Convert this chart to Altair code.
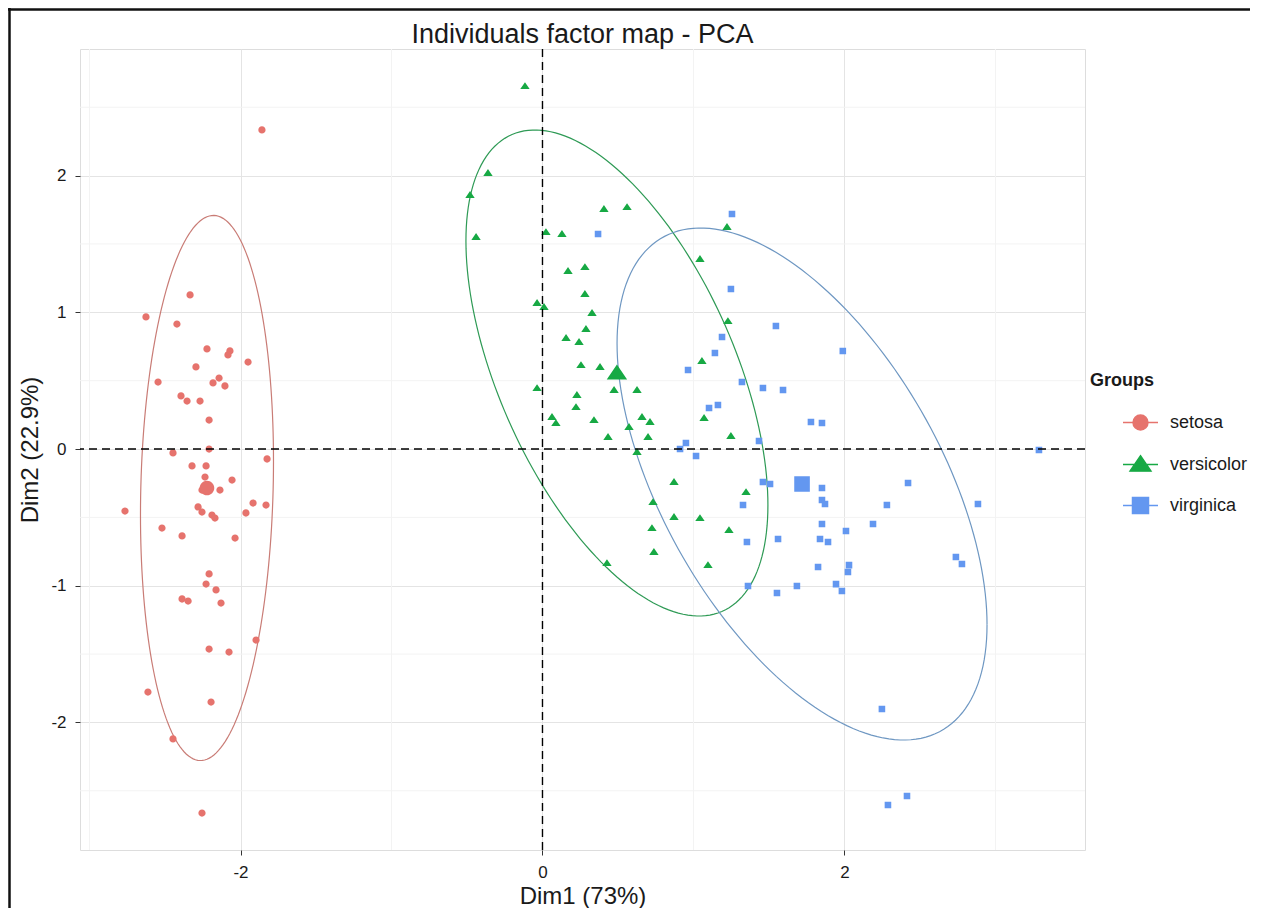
import altair as alt
import pandas as pd
import numpy as np

groups = ["setosa", "versicolor", "virginica"]

setosa_x = [-1.858, -2.334, -2.626, -2.421, -2.222, -2.070, -2.083, -1.950, -2.295, -2.546,
            -2.142, -2.182, -2.103, -2.394, -2.354, -2.268, -2.208, -2.208, -2.447, -1.824,
            -2.321, -2.228, -2.056, -2.235, -2.136, -2.255, -2.281, -2.255, -2.189, -2.169,
            -1.917, -1.831, -1.964, -2.765, -2.520, -2.387, -2.036, -2.208, -2.228, -2.162,
            -2.387, -2.347, -2.129, -1.897, -2.208, -2.076, -2.613, -2.195, -2.447, -2.255]
setosa_y = [2.334, 1.127, 0.966, 0.914, 0.732, 0.717, 0.688, 0.636, 0.600, 0.490,
            0.519, 0.483, 0.461, 0.388, 0.351, 0.351, 0.212, 0.000, -0.029, -0.073,
            -0.124, -0.124, -0.227, -0.205, -0.300, -0.300, -0.424, -0.461, -0.483, -0.505,
            -0.395, -0.410, -0.468, -0.454, -0.578, -0.636, -0.651, -0.914, -0.988, -1.031,
            -1.097, -1.112, -1.127, -1.397, -1.463, -1.485, -1.778, -1.851, -2.121, -2.663]

versicolor_x = [-0.116, -0.361, -0.480, -0.440, 0.023, 0.129, 0.407, 0.560, 1.222, 0.169,
                0.281, 1.043, 0.281, -0.036, 0.010, 0.328, 1.228, 0.288, 0.156, 0.242,
                0.255, 0.381, 1.056, -0.036, 0.228, 0.474, 0.626, 0.222, 0.063, 0.089,
                0.341, 0.659, 0.712, 0.573, 1.070, 0.434, 0.699, 1.248, 0.626, 0.871,
                1.348, 0.732, 0.871, 1.043, 0.725, 1.235, 0.738, 0.427, 1.096]
versicolor_y = [2.655, 2.019, 1.858, 1.551, 1.587, 1.573, 1.756, 1.770, 1.624, 1.302,
                1.331, 1.390, 1.134, 1.068, 1.039, 0.995, 0.936, 0.878, 0.812, 0.783,
                0.614, 0.600, 0.644, 0.446, 0.395, 0.432, 0.432, 0.307, 0.234, 0.190,
                0.212, 0.234, 0.198, 0.161, 0.227, 0.088, 0.088, 0.095, -0.022, -0.241,
                -0.315, -0.388, -0.497, -0.505, -0.578, -0.593, -0.753, -0.834, -0.849]

virginica_x = [1.255, 0.368, 1.248, 1.546, 1.189, 1.989, 1.142, 0.964, 1.321, 1.460,
               1.593, 1.103, 1.162, 1.778, 1.851, 1.434, 0.950, 0.911, 1.017, 1.460,
               1.507, 1.328, 1.354, 1.361, 1.553, 1.560, 3.288, 1.851, 1.851, 1.871,
               2.421, 2.281, 2.884, 1.851, 2.010, 2.189, 1.838, 1.891, 2.738, 2.778,
               1.825, 2.030, 2.023, 1.685, 1.944, 1.983, 2.248, 2.414, 2.288]
virginica_y = [1.719, 1.573, 1.170, 0.900, 0.819, 0.717, 0.702, 0.578, 0.490, 0.446,
               0.432, 0.300, 0.322, 0.198, 0.190, 0.059, 0.044, 0.000, -0.051, -0.241,
               -0.256, -0.410, -0.680, -1.002, -1.053, -0.658, -0.007, -0.285, -0.373, -0.402,
               -0.249, -0.410, -0.402, -0.549, -0.600, -0.549, -0.658, -0.680, -0.790, -0.841,
               -0.863, -0.849, -0.900, -1.002, -0.988, -1.039, -1.902, -2.538, -2.604]

# group means (large symbols) and ellipse shape (covariance terms, data units)
mean_x = [-2.222, 0.493, 1.719]
mean_y = [-0.285, 0.556, -0.256]
ell_sxx = [0.194, 1.000, 1.501]
ell_syy = [3.974, 3.160, 3.507]
ell_sxy = [0.086, -0.966, -1.260]

x_ticks = [-2, 0, 2]
y_ticks = [-2, -1, 0, 1, 2]
x_minor = [-3, -1, 1, 3]
y_minor = [-2.5, -1.5, -0.5, 0.5, 1.5, 2.5]
x_domain = [-3.063, 3.593]
y_domain = [-2.933, 2.926]

point_colors = ["#E6736D", "#17A944", "#6397F0"]
ellipse_colors = ["#C97C76", "#2E9A55", "#6E97C2"]
shape_paths = [
    "M-1,0L1,0M0.43,0A0.43,0.43,0,1,1,-0.43,0A0.43,0.43,0,1,1,0.43,0Z",
    "M-1,0L1,0M0,-0.5L0.6,0.38L-0.6,0.38Z",
    "M-1,0L1,0M-0.46,-0.46L0.46,-0.46L0.46,0.46L-0.46,0.46Z",
]

pts = pd.DataFrame({
    "group": ["setosa"] * len(setosa_x) + ["versicolor"] * len(versicolor_x) + ["virginica"] * len(virginica_x),
    "x": setosa_x + versicolor_x + virginica_x,
    "y": setosa_y + versicolor_y + virginica_y,
})
means = pd.DataFrame({"group": groups, "x": mean_x, "y": mean_y})

t = np.linspace(0, 2 * np.pi, 181)
rows = []
for g, cx, cy, a, b, c in zip(groups, mean_x, mean_y, ell_sxx, ell_syy, ell_sxy):
    l11 = np.sqrt(a)
    l21 = c / l11
    l22 = np.sqrt(b - l21 ** 2)
    ex = cx + l11 * np.cos(t)
    ey = cy + l21 * np.cos(t) + l22 * np.sin(t)
    for i, (xx, yy) in enumerate(zip(ex, ey)):
        rows.append({"group": g, "i": i, "x": float(xx), "y": float(yy)})
ell = pd.DataFrame(rows)

FONT = "Liberation Sans"
xs = alt.Scale(domain=x_domain, nice=False, zero=False)
ys = alt.Scale(domain=y_domain, nice=False, zero=False)

common_axis = dict(grid=True, gridColor="#E4E4E4", gridWidth=1, domain=False, ticks=True,
                   tickColor="#333333", tickSize=5, labelFontSize=17, labelColor="#1a1a1a",
                   labelPadding=9, titleFontSize=24, titleFontWeight="normal",
                   titleColor="#1a1a1a", labelFont=FONT, titleFont=FONT,
                   labelExpr="'' + datum.value")
xa = alt.Axis(values=x_ticks, title="Dim1 (73%)", titlePadding=4, **common_axis)
ya = alt.Axis(values=y_ticks, title="Dim2 (22.9%)", titlePadding=8, **common_axis)


def X():
    return alt.X("x:Q", scale=xs, axis=xa)


def Y():
    return alt.Y("y:Q", scale=ys, axis=ya)


color_scale = alt.Scale(domain=groups, range=point_colors)
shape_scale = alt.Scale(domain=groups, range=shape_paths)

# legend key outline (line through the symbol) coloured per group
stroke_expr = "datum.value === '%s' ? '%s' : datum.value === '%s' ? '%s' : '%s'" % (
    groups[0], point_colors[0], groups[1], point_colors[1], point_colors[2])

LEG = alt.Legend(
    title="Groups", orient="none", legendX=1010, legendY=323,
    titleFontSize=18, titleFontWeight="bold", titleFont=FONT,
    titleColor="#1a1a1a", titlePadding=14,
    labelFontSize=18, labelFont=FONT, labelColor="#1a1a1a",
    symbolSize=1225, symbolOffset=32, labelOffset=11, rowPadding=13,
    symbolStrokeWidth=1.4, symbolStrokeColor=alt.ExprRef(expr=stroke_expr))

minor_x = alt.Chart(pd.DataFrame({"x": x_minor})).mark_rule(color="#F3F3F3", strokeWidth=1).encode(x=X())
minor_y = alt.Chart(pd.DataFrame({"y": y_minor})).mark_rule(color="#F3F3F3", strokeWidth=1).encode(y=Y())

ellipse_layers = [
    alt.Chart(ell).transform_filter(alt.datum.group == g).mark_line(strokeWidth=1.2, color=col).encode(
        x=X(), y=Y(), order="i:Q")
    for g, col in zip(groups, ellipse_colors)
]

points = alt.Chart(pts).mark_point(filled=True, opacity=1).encode(
    x=X(), y=Y(),
    color=alt.Color("group:N", scale=color_scale, legend=LEG),
    shape=alt.Shape("group:N", scale=shape_scale, legend=LEG),
    size=alt.Size("group:N", scale=alt.Scale(domain=groups, range=[285, 205, 280]), legend=None),
)

mean_pts = alt.Chart(means).mark_point(filled=True, opacity=1).encode(
    x=X(), y=Y(),
    color=alt.Color("group:N", scale=color_scale, legend=LEG),
    shape=alt.Shape("group:N", scale=shape_scale, legend=LEG),
    size=alt.Size("group:N", scale=alt.Scale(domain=groups, range=[1150, 1150, 1365]), legend=None),
)

zero_v = alt.Chart(pd.DataFrame({"x": [0]})).mark_rule(color="black", strokeWidth=1.4, strokeDash=[8, 5]).encode(x=X())
zero_h = alt.Chart(pd.DataFrame({"y": [0]})).mark_rule(color="black", strokeWidth=1.4, strokeDash=[8, 5]).encode(y=Y())

# picture frame (left and top edges of the image)
frame_left = alt.Chart(pd.DataFrame({"k": [0]})).mark_rule(color="#111111", strokeWidth=2.5).encode(
    x=alt.value(-70.5), y=alt.value(-41), y2=alt.value(859))
frame_top = alt.Chart(pd.DataFrame({"k": [0]})).mark_rule(color="#111111", strokeWidth=2.5).encode(
    x=alt.value(-72), x2=alt.value(1170), y=alt.value(-39.5))

chart = alt.layer(minor_x, minor_y, *ellipse_layers, points, mean_pts, zero_v, zero_h,
                  frame_left, frame_top).resolve_scale(
    size="independent"
).properties(
    width=1005, height=801,
    autosize=alt.AutoSizeParams(type="none"),
    padding={"left": 72, "top": 41, "right": 165, "bottom": 58},
    title=alt.TitleParams("Individuals factor map - PCA", fontSize=27, fontWeight="normal",
                          font=FONT, color="#1a1a1a", anchor="middle", offset=-35,
                          baseline="alphabetic", frame="group", dy=28),
).configure_view(stroke="transparent").configure(font=FONT)

chart.save("out.html", embed_options={"renderer": "svg", "actions": False})
